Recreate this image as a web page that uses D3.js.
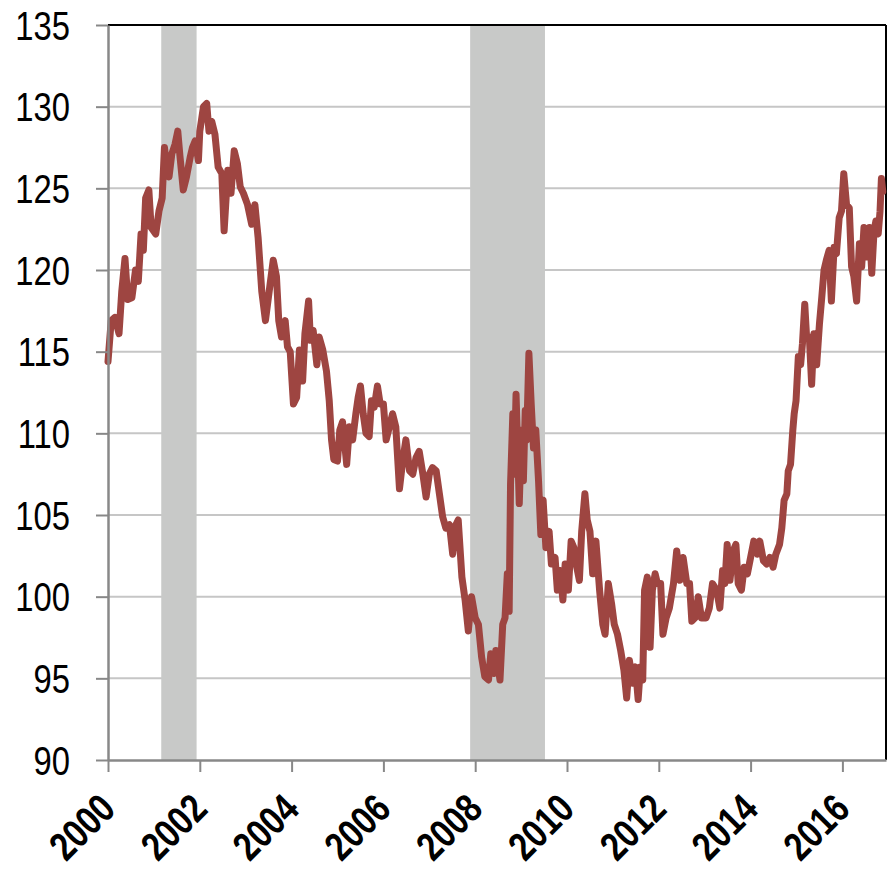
<!DOCTYPE html>
<html>
<head>
<meta charset="utf-8">
<script src="https://cdn.jsdelivr.net/npm/d3@7"></script>
<style>
  body { margin: 0; background: #fff; }
  svg { display: block; }
  .tick text { font-family: "Liberation Sans", Arial, sans-serif; }
</style>
</head>
<body>
<svg id="drawing_region"></svg>
<script>
// decimal years and index values
const years = [
  2000.00, 2000.07, 2000.15, 2000.24, 2000.30, 2000.37, 2000.43, 2000.52, 2000.60, 2000.66,
  2000.72, 2000.77, 2000.82, 2000.89, 2000.94, 2001.04, 2001.11, 2001.18, 2001.23, 2001.28,
  2001.33, 2001.39, 2001.46, 2001.52, 2001.57, 2001.64, 2001.71, 2001.79, 2001.84, 2001.90,
  2001.97, 2002.00, 2002.08, 2002.15, 2002.20, 2002.26, 2002.33, 2002.40, 2002.48, 2002.53,
  2002.61, 2002.68, 2002.75, 2002.82, 2002.88, 2002.95, 2003.04, 2003.13, 2003.20, 2003.27,
  2003.35, 2003.43, 2003.53, 2003.60, 2003.67, 2003.72, 2003.78, 2003.86, 2003.91, 2003.97,
  2004.04, 2004.11, 2004.17, 2004.24, 2004.29, 2004.37, 2004.41, 2004.47, 2004.55, 2004.60,
  2004.68, 2004.76, 2004.82, 2004.87, 2004.92, 2005.00, 2005.05, 2005.11, 2005.20, 2005.26,
  2005.33, 2005.40, 2005.45, 2005.50, 2005.56, 2005.62, 2005.69, 2005.74, 2005.80, 2005.87,
  2005.93, 2006.00, 2006.06, 2006.13, 2006.20, 2006.27, 2006.35, 2006.42, 2006.49, 2006.57,
  2006.64, 2006.71, 2006.78, 2006.86, 2006.93, 2007.00, 2007.07, 2007.15, 2007.22, 2007.29,
  2007.36, 2007.44, 2007.51, 2007.58, 2007.63, 2007.71, 2007.78, 2007.85, 2007.92, 2008.00,
  2008.07, 2008.14, 2008.21, 2008.29, 2008.34, 2008.41, 2008.45, 2008.54, 2008.60, 2008.65,
  2008.70, 2008.74, 2008.77, 2008.82, 2008.85, 2008.89, 2008.92, 2008.96, 2009.01, 2009.05,
  2009.09, 2009.12, 2009.17, 2009.22, 2009.27, 2009.32, 2009.38, 2009.43, 2009.48, 2009.54,
  2009.61, 2009.66, 2009.74, 2009.79, 2009.85, 2009.91, 2009.96, 2010.03, 2010.09, 2010.15,
  2010.20, 2010.27, 2010.32, 2010.39, 2010.44, 2010.50, 2010.56, 2010.63, 2010.71, 2010.78,
  2010.83, 2010.90, 2010.97, 2011.03, 2011.10, 2011.17, 2011.24, 2011.30, 2011.36, 2011.43,
  2011.49, 2011.55, 2011.60, 2011.65, 2011.69, 2011.75, 2011.81, 2011.86, 2011.92, 2011.97,
  2012.04, 2012.09, 2012.16, 2012.23, 2012.32, 2012.39, 2012.46, 2012.53, 2012.61, 2012.67,
  2012.72, 2012.79, 2012.86, 2012.93, 2013.03, 2013.10, 2013.17, 2013.26, 2013.33, 2013.39,
  2013.44, 2013.49, 2013.55, 2013.62, 2013.68, 2013.73, 2013.80, 2013.86, 2013.93, 2014.00,
  2014.07, 2014.15, 2014.20, 2014.28, 2014.35, 2014.42, 2014.49, 2014.55, 2014.63, 2014.68,
  2014.73, 2014.79, 2014.82, 2014.87, 2014.92, 2014.95, 2014.99, 2015.04, 2015.09, 2015.13,
  2015.18, 2015.22, 2015.28, 2015.33, 2015.38, 2015.44, 2015.50, 2015.55, 2015.60, 2015.65,
  2015.71, 2015.76, 2015.82, 2015.87, 2015.93, 2015.98, 2016.03, 2016.09, 2016.15, 2016.20,
  2016.25, 2016.31, 2016.37, 2016.42, 2016.47, 2016.53, 2016.59, 2016.64, 2016.69, 2016.73,
  2016.78, 2016.82, 2016.85, 2016.88
];
const values = [
  114.4, 116.9, 117.1, 116.1, 118.7, 120.7, 118.2, 118.3, 120.0, 119.3,
  122.2, 121.2, 124.4, 124.9, 122.6, 122.2, 123.6, 124.4, 127.5, 126.3,
  125.7, 127.1, 127.7, 128.5, 126.9, 124.9, 125.7, 126.9, 127.5, 127.9,
  126.7, 128.5, 130.0, 130.2, 128.5, 129.1, 128.3, 126.3, 125.9, 122.4,
  126.1, 124.7, 127.3, 126.5, 125.1, 124.7, 124.0, 122.8, 124.0, 122.0,
  118.7, 116.9, 119.1, 120.6, 119.6, 116.9, 115.9, 116.9, 115.3, 115.0,
  111.8, 112.2, 115.1, 113.2, 116.1, 118.1, 115.7, 116.3, 114.2, 115.9,
  115.1, 113.8, 112.0, 109.6, 108.4, 108.3, 110.2, 110.7, 108.1, 110.4,
  109.6, 111.2, 112.2, 112.9, 111.2, 110.0, 109.8, 112.0, 111.6, 112.9,
  111.8, 111.8, 109.6, 110.4, 111.2, 110.4, 106.6, 108.3, 109.6, 107.7,
  107.5, 108.5, 108.9, 107.5, 106.1, 107.5, 107.9, 107.7, 106.3, 104.9,
  104.2, 104.4, 102.6, 104.4, 104.7, 101.2, 99.8, 97.9, 100.0, 98.7,
  98.3, 96.3, 95.1, 94.9, 96.5, 95.3, 96.7, 94.9, 98.3, 98.7,
  101.4, 99.1, 106.9, 111.2, 107.5, 112.4, 109.6, 105.7, 110.2, 107.1,
  111.4, 109.6, 114.9, 111.8, 109.1, 110.2, 107.1, 103.8, 105.9, 103.0,
  104.0, 102.0, 102.4, 100.4, 101.6, 99.8, 102.0, 100.4, 103.4, 103.0,
  102.0, 101.0, 104.0, 106.3, 104.7, 104.0, 101.4, 103.4, 100.4, 98.3,
  97.7, 100.8, 99.6, 98.3, 97.7, 96.7, 95.5, 93.8, 96.1, 94.7,
  95.7, 93.7, 95.7, 94.9, 100.4, 101.2, 96.9, 100.4, 101.4, 100.8,
  100.8, 97.7, 98.7, 99.3, 100.8, 102.8, 101.0, 102.4, 100.8, 100.8,
  98.5, 98.7, 100.0, 98.7, 98.7, 99.3, 100.8, 100.4, 99.3, 101.6,
  100.8, 103.2, 101.0, 102.8, 103.2, 100.8, 100.4, 101.8, 101.4, 102.4,
  103.4, 102.6, 103.4, 102.2, 102.0, 102.4, 101.8, 102.6, 103.2, 104.2,
  105.9, 106.3, 107.7, 108.1, 110.2, 111.2, 112.0, 114.7, 114.2, 115.5,
  117.9, 115.9, 115.9, 113.0, 116.1, 114.2, 116.7, 118.3, 120.0, 120.6,
  121.2, 118.1, 121.4, 121.0, 123.2, 123.6, 125.9, 124.0, 123.8, 120.2,
  119.6, 118.1, 121.6, 120.2, 122.6, 120.8, 122.6, 119.8, 122.4, 123.0,
  122.2, 123.6, 125.6, 124.8
];
const recessionStart = [2001.16, 2007.89];
const recessionEnd = [2001.93, 2009.52];
const yTicks = [90, 95, 100, 105, 110, 115, 120, 125, 130, 135];
const xTicks = [2000, 2002, 2004, 2006, 2008, 2010, 2012, 2014, 2016];

const config = {
    parent: '#drawing_region',
    width: 892,
    height: 869,
    margin: {top: 25, right: 6, bottom: 109, left: 108}
};

// narrow the regular face to the width of a condensed font
const narrow = 0.82;

const data = years.map((y, i) => ({year: y, value: values[i]}));
const recessions = recessionStart.map((s, i) => ({start: s, end: recessionEnd[i]}));

const svg = d3.select(config.parent)
    .attr('width', config.width)
    .attr('height', config.height);

const inner_width = config.width - config.margin.left - config.margin.right;
const inner_height = config.height - config.margin.top - config.margin.bottom;

const chart = svg.append('g')
    .attr('transform', `translate(${config.margin.left}, ${config.margin.top})`);

const xscale = d3.scaleLinear()
    .domain([2000, 2016.95])
    .range([0, inner_width]);

const yscale = d3.scaleLinear()
    .domain([90, 135])
    .range([inner_height, 0]);

// horizontal grid lines
chart.append('g')
    .selectAll('line')
    .data(yTicks.filter(d => d > 90 && d < 135))
    .join('line')
    .attr('x1', 0)
    .attr('x2', inner_width)
    .attr('y1', d => yscale(d))
    .attr('y2', d => yscale(d))
    .attr('stroke', '#c6c6c6')
    .attr('stroke-width', 2);

// recession shading
chart.append('g')
    .selectAll('rect')
    .data(recessions)
    .join('rect')
    .attr('x', d => xscale(d.start))
    .attr('y', 0)
    .attr('width', d => xscale(d.end) - xscale(d.start))
    .attr('height', inner_height)
    .attr('fill', '#c8c9c8');

// frame: black top and right
chart.append('line')
    .attr('x1', 0).attr('x2', inner_width)
    .attr('y1', 0).attr('y2', 0)
    .attr('stroke', '#000').attr('stroke-width', 2);
chart.append('line')
    .attr('x1', inner_width).attr('x2', inner_width)
    .attr('y1', 0).attr('y2', inner_height)
    .attr('stroke', '#000').attr('stroke-width', 2);

// the series
const line = d3.line()
    .x(d => xscale(d.year))
    .y(d => yscale(d.value));

chart.append('path')
    .datum(data)
    .attr('d', line)
    .attr('fill', 'none')
    .attr('stroke', '#9e4541')
    .attr('stroke-width', 7)
    .attr('stroke-linejoin', 'round')
    .attr('stroke-linecap', 'round');

// axes
const yaxis = d3.axisLeft(yscale)
    .tickValues(yTicks)
    .tickSize(12)
    .tickSizeOuter(0);

const xaxis = d3.axisBottom(xscale)
    .tickValues(xTicks)
    .tickFormat(d3.format('d'))
    .tickSize(12)
    .tickSizeOuter(0);

const yaxis_group = chart.append('g').call(yaxis);
yaxis_group.select('.domain').attr('stroke', '#888').attr('stroke-width', 2.5);
yaxis_group.selectAll('.tick line').attr('stroke', '#888').attr('stroke-width', 2);
yaxis_group.selectAll('.tick text')
    .attr('font-size', 40)
    .attr('fill', '#000')
    .attr('x', 0)
    .attr('dy', '0.35em')
    .attr('transform', `translate(-38, 0) scale(${narrow}, 1)`);

const xaxis_group = chart.append('g')
    .attr('transform', `translate(0, ${inner_height})`)
    .call(xaxis);
xaxis_group.select('.domain').attr('stroke', '#888').attr('stroke-width', 2.5);
xaxis_group.selectAll('.tick line').attr('stroke', '#888').attr('stroke-width', 2);
xaxis_group.selectAll('.tick text')
    .attr('font-size', 40)
    .attr('font-weight', 'bold')
    .attr('fill', '#000')
    .attr('text-anchor', 'end')
    .attr('dy', null)
    .attr('y', 0)
    .attr('transform', `translate(9, 51) rotate(-45) scale(${narrow}, 1)`);
</script>
</body>
</html>
